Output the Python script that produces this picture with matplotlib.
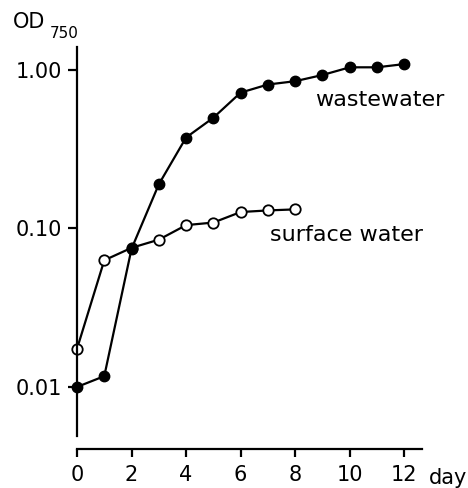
import matplotlib
matplotlib.use("Agg")
import matplotlib.pyplot as plt
from matplotlib.ticker import FixedLocator, FixedFormatter, NullLocator

plt.rcParams['font.family'] = ['DejaVu Sans']

days_waste = [0, 1, 2, 3, 4, 5, 6, 7, 8, 9, 10, 11, 12]
od_waste = [0.0100, 0.0117, 0.0745, 0.19, 0.375, 0.50, 0.72, 0.81, 0.85, 0.93, 1.04, 1.04, 1.09]

days_surface = [0, 1, 2, 3, 4, 5, 6, 7, 8]
od_surface = [0.0174, 0.063, 0.0755, 0.085, 0.105, 0.109, 0.127, 0.130, 0.132]

x_ticks = [0, 2, 4, 6, 8, 10, 12]
y_ticks = [0.01, 0.1, 1.0]
y_tick_labels = ["0.01", "0.10", "1.00"]

W, H = 468, 488
fig = plt.figure(figsize=(W / 100, H / 100), dpi=100)
ax = fig.add_axes([77 / W, (H - 449) / H, (422 - 77) / W, (449 - 47) / H])

ax.set_yscale('log')
ax.set_xlim(0, 12.65)
ax.set_ylim(0.00406, 1.397)

ax.plot(days_waste, od_waste, color='black', lw=1.6, marker='o', ms=7.5,
        mfc='black', mec='black', clip_on=False, zorder=3)
ax.plot(days_surface, od_surface, color='black', lw=1.6, marker='o', ms=7.5,
        mfc='white', mec='black', mew=1.3, clip_on=False, zorder=2)

for s in ['top', 'right']:
    ax.spines[s].set_visible(False)
ax.spines['left'].set_bounds(0.0049, 1.397)
ax.spines['left'].set_linewidth(1.6)
ax.spines['bottom'].set_linewidth(1.6)

ax.xaxis.set_major_locator(FixedLocator(x_ticks))
ax.set_xticklabels([str(t) for t in x_ticks])
ax.yaxis.set_major_locator(FixedLocator(y_ticks))
ax.yaxis.set_major_formatter(FixedFormatter(y_tick_labels))
ax.yaxis.set_minor_locator(NullLocator())
ax.xaxis.set_minor_locator(NullLocator())

ax.tick_params(axis='x', direction='out', length=5.5, width=1.6, labelsize=15, pad=6)
ax.tick_params(axis='y', direction='out', length=6.5, width=1.6, labelsize=15, pad=4)

ax.text(8.73, 0.646, "wastewater", fontsize=16, va='center', ha='left')
ax.text(7.08, 0.0916, "surface water", fontsize=16, va='center', ha='left')

fig.text(13 / W, 1 - 22 / H, "OD", fontsize=15, va='center', ha='left')
fig.text(50 / W, 1 - 34 / H, "750", fontsize=11, va='center', ha='left')
fig.text(429 / W, 1 - 478 / H, "day", fontsize=15, va='center', ha='left')

fig.savefig("out.png", dpi=100)
